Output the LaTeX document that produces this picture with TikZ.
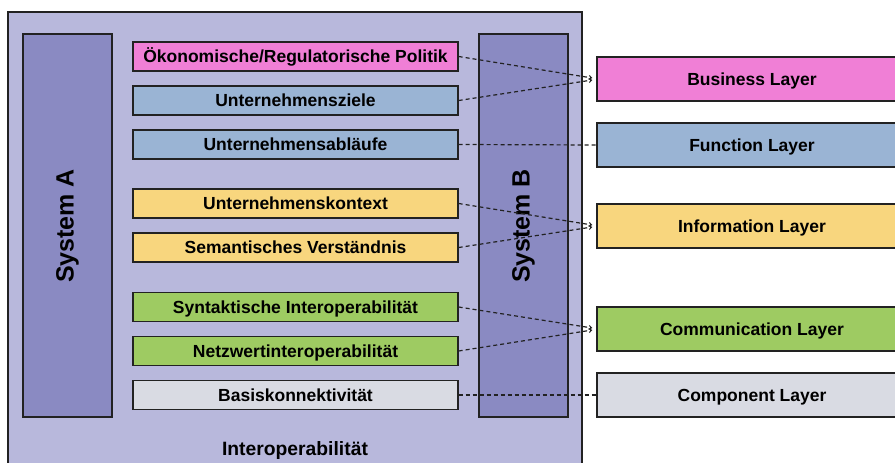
\documentclass[tikz,border=0pt]{standalone}
\usepackage{fontspec}
\setmainfont{Liberation Sans}
\usetikzlibrary{arrows.meta}
\definecolor{outerfill}{HTML}{B8B8DC}
\definecolor{sysfill}{HTML}{8A8AC2}
\definecolor{pinkfill}{HTML}{F07FD6}
\definecolor{bluefill}{HTML}{9AB4D4}
\definecolor{yellowfill}{HTML}{F8D67E}
\definecolor{greenfill}{HTML}{9ECB62}
\definecolor{grayfill}{HTML}{D9DBE3}
\definecolor{edge}{HTML}{222222}
\tikzset{
  inbox/.style={draw=edge, line width=1.4pt, minimum width=325pt, minimum height=29pt, inner sep=0pt,
    text height=12.5pt, text depth=0pt, font=\fontsize{17.5}{20}\selectfont\bfseries},
  laybox/.style={draw=edge, line width=1.4pt, minimum width=310pt, minimum height=44pt, inner sep=0pt,
    text height=12.5pt, text depth=0pt, font=\fontsize{17.5}{20}\selectfont\bfseries},
  sysbox/.style={draw=edge, line width=1.4pt, fill=sysfill, minimum width=89pt, minimum height=383pt, inner sep=0pt},
  conn/.style={dashed, dash pattern=on 4pt off 3pt, line width=1.2pt, draw=edge},
  tipped/.style={conn, -{Straight Barb[length=2.5pt,width=4pt,line width=1pt]}}
}
\begin{document}
\begin{tikzpicture}[x=1pt,y=-1pt]
\useasboundingbox (0,0) rectangle (895,463);
\fill[white] (0,0) rectangle (895,463);
% outer box
\draw[draw=edge, line width=1.4pt, fill=outerfill] (8,12) rectangle (582,475);
\node[font=\fontsize{19.3}{22}\selectfont\bfseries, text height=14pt, text depth=0pt] (interop) at (295,448) {Interoperabilität};
% systems
\node[sysbox] (sysA) at (67.5,225.5) {};
\node[rotate=90, font=\fontsize{25}{29}\selectfont\bfseries] (labA) at (67.5,226) {System A};
\node[sysbox] (sysB) at (523.5,225.5) {};
\node[rotate=90, font=\fontsize{25}{29}\selectfont\bfseries] (labB) at (523.5,226) {System B};
% inner boxes
\node[inbox, fill=pinkfill] (oek) at (295.5,56.5) {Ökonomische/Regulatorische Politik};
\node[inbox, fill=bluefill] (ziele) at (295.5,100.5) {Unternehmensziele};
\node[inbox, fill=bluefill] (ablauf) at (295.5,144.5) {Unternehmensabläufe};
\node[inbox, fill=yellowfill] (kontext) at (295.5,203.5) {Unternehmenskontext};
\node[inbox, fill=yellowfill] (sem) at (295.5,247.5) {Semantisches Verständnis};
\node[inbox, fill=greenfill] (syn) at (295.5,307) {Syntaktische Interoperabilität};
\node[inbox, fill=greenfill] (netz) at (295.5,351) {Netzwertinteroperabilität};
\node[inbox, fill=grayfill] (basis) at (295.5,395) {Basiskonnektivität};
% layer boxes
\node[laybox, fill=pinkfill] (bus) at (752,79) {Business Layer};
\node[laybox, fill=bluefill] (fun) at (752,145) {Function Layer};
\node[laybox, fill=yellowfill] (inf) at (752,226) {Information Layer};
\node[laybox, fill=greenfill] (com) at (752,329) {Communication Layer};
\node[laybox, fill=grayfill] (cmp) at (752,395) {Component Layer};
% connectors
\draw[tipped] (oek.east) -- ([shift={(-4,-1)}]bus.west);
\draw[tipped] (ziele.east) -- ([shift={(-4,1)}]bus.west);
\draw[conn] (ablauf.east) -- (fun.west);
\draw[tipped] (kontext.east) -- ([shift={(-4,-1)}]inf.west);
\draw[tipped] (sem.east) -- ([shift={(-4,1)}]inf.west);
\draw[tipped] (syn.east) -- ([shift={(-4,-1)}]com.west);
\draw[tipped] (netz.east) -- ([shift={(-4,1)}]com.west);
\draw[conn] (basis.east) -- (cmp.west);
\end{tikzpicture}
\end{document}
